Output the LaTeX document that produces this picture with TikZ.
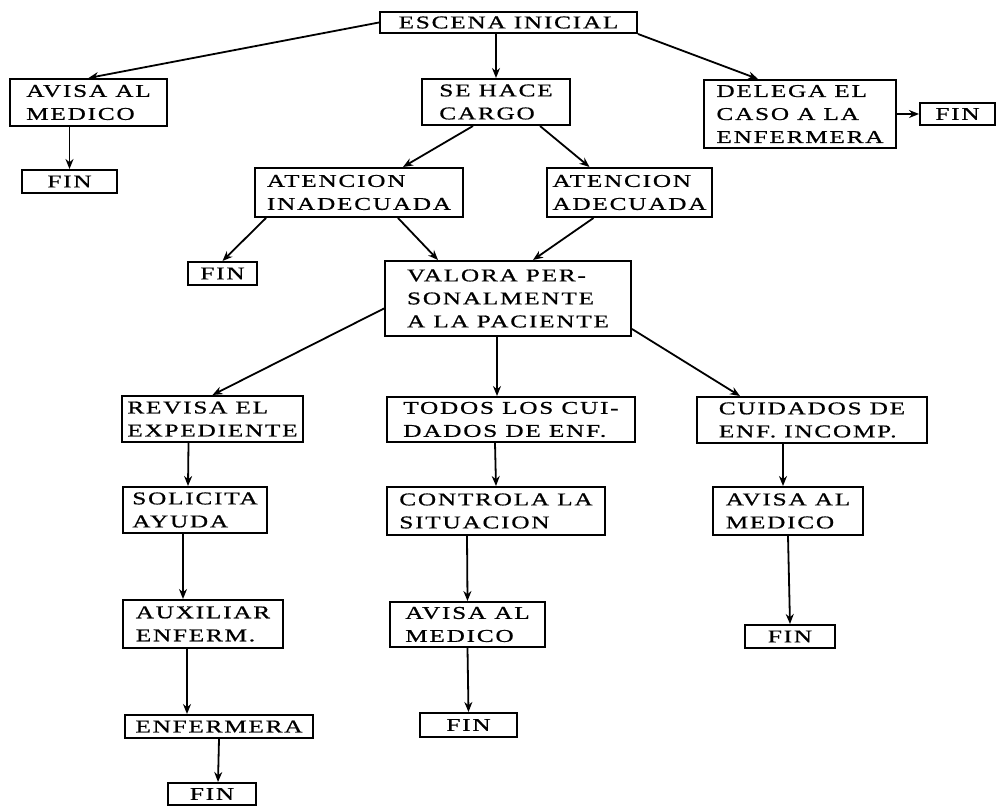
\documentclass[tikz,border=0pt]{standalone}
\usepackage{fontspec}
\newfontfamily\boxfont{Liberation Serif}[FakeStretch=1.4,LetterSpace=10,FakeBold=0.8]
\usetikzlibrary{arrows.meta}

\begin{document}
\begin{tikzpicture}[x=0.5pt,y=-0.5pt,
  box/.style={draw,line width=1pt,inner xsep=2pt,inner ysep=1pt,align=left,
    font=\boxfont\fontsize{9}{11.5}\selectfont},
  flow/.style={line width=0.9pt,-{Stealth[length=5pt,width=4pt]}}]
\useasboundingbox (0,0) rectangle (996,807);
% first level
\node[box,minimum width=128.5pt,minimum height=10.5pt] (esc) at (508.5,22.5) {ESCENA INICIAL};
\node[box,minimum width=78.5pt,minimum height=23.5pt] (avisaA) at (88.5,102.5) {AVISA AL\\MEDICO};
\node[box,minimum width=47.5pt,minimum height=11.5pt] (finA) at (69.5,181.5) {FIN};
\node[box,minimum width=74pt,minimum height=23pt] (carga) at (496,102) {SE HACE\\CARGO};
\node[box,minimum width=96pt,minimum height=34pt] (delega) at (800,114) {DELEGA EL\\CASO A LA\\ENFERMERA};
\node[box,minimum width=37.5pt,minimum height=11pt] (finB) at (957.5,114) {FIN};
% atencion
\node[box,minimum width=104pt,minimum height=24.5pt] (inad) at (359,192.5) {ATENCION\\INADECUADA};
\node[box,minimum width=82.5pt,minimum height=24.5pt] (adec) at (629.5,192.5) {ATENCION\\ADECUADA};
\node[box,minimum width=34.5pt,minimum height=11.5pt] (finC) at (222.5,273.5) {FIN};
\node[box,minimum width=123pt,minimum height=37.5pt] (valora) at (508,298.5) {VALORA PER-\\SONALMENTE\\A LA PACIENTE};
% three branches
\node[box,minimum width=90.5pt,minimum height=23pt] (revisa) at (212.5,419) {REVISA EL\\EXPEDIENTE};
\node[box,minimum width=124pt,minimum height=22.5pt] (todos) at (511,419.5) {TODOS LOS CUI-\\DADOS DE ENF.};
\node[box,minimum width=115pt,minimum height=23pt] (cuid) at (812,420) {CUIDADOS DE\\ENF. INCOMP.};
\node[box,minimum width=72pt,minimum height=23pt] (solicita) at (195,510) {SOLICITA\\AYUDA};
\node[box,minimum width=109pt,minimum height=24pt] (controla) at (496,511) {CONTROLA LA\\SITUACION};
\node[box,minimum width=75pt,minimum height=24pt] (avisaC) at (788,511) {AVISA AL\\MEDICO};
\node[box,minimum width=80pt,minimum height=24pt] (auxiliar) at (203,624) {AUXILIAR\\ENFERM.};
\node[box,minimum width=77.5pt,minimum height=22.5pt] (avisaB) at (467.5,624.5) {AVISA AL\\MEDICO};
\node[box,minimum width=45pt,minimum height=11.5pt] (finD) at (790,636.5) {FIN};
\node[box,minimum width=94pt,minimum height=11.5pt] (enfermera) at (219,726.5) {ENFERMERA};
\node[box,minimum width=48.5pt,minimum height=12pt] (finE) at (468.5,725) {FIN};
\node[box,minimum width=44pt,minimum height=11pt] (finF) at (212,794) {FIN};
% arrows
\draw[flow] (esc.west) -- (avisaA.north);
\draw[flow] (esc.south -| carga.north) -- (carga.north);
\draw[flow] (esc.south east) -- ([xshift=-21pt]delega.north);
\draw[flow] (avisaA.south -| finA.north) -- (finA.north);
\draw[flow] (delega.east) -- (finB.west);
\draw[flow] ([xshift=-11.5pt]carga.south) -- ([xshift=22pt]inad.north);
\draw[flow] ([xshift=22pt]carga.south) -- ([xshift=-20pt]adec.north);
\draw[flow] ([xshift=6pt]inad.south west) -- (finC.north);
\draw[flow] ([xshift=19.5pt]inad.south) -- ([xshift=-35pt]valora.north);
\draw[flow] ([xshift=-18pt]adec.south) -- ([xshift=12.5pt]valora.north);
\draw[flow] ([yshift=-5pt]valora.west) -- (revisa.north);
\draw[flow] ([xshift=-5.5pt]valora.south) -- ([xshift=-7pt]todos.north);
\draw[flow] ([yshift=4pt]valora.south east) -- ([xshift=-36pt]cuid.north);
\draw[flow] ([xshift=-12pt]revisa.south) -- ([xshift=-3.5pt]solicita.north);
\draw[flow] ([xshift=-6pt]solicita.south) -- ([xshift=-10pt]auxiliar.north);
\draw[flow] ([xshift=-8pt]auxiliar.south) -- ([xshift=-16pt]enfermera.north);
\draw[flow] (enfermera.south) -- ([xshift=3pt]finF.north);
\draw[flow] ([xshift=-8pt]todos.south) -- (controla.north);
\draw[flow] ([xshift=-14.5pt]controla.south) -- (avisaB.north);
\draw[flow] (avisaB.south) -- (finE.north);
\draw[flow] ([xshift=-14.5pt]cuid.south) -- ([xshift=-2.5pt]avisaC.north);
\draw[flow] (avisaC.south) -- (finD.north);
\end{tikzpicture}
\end{document}
